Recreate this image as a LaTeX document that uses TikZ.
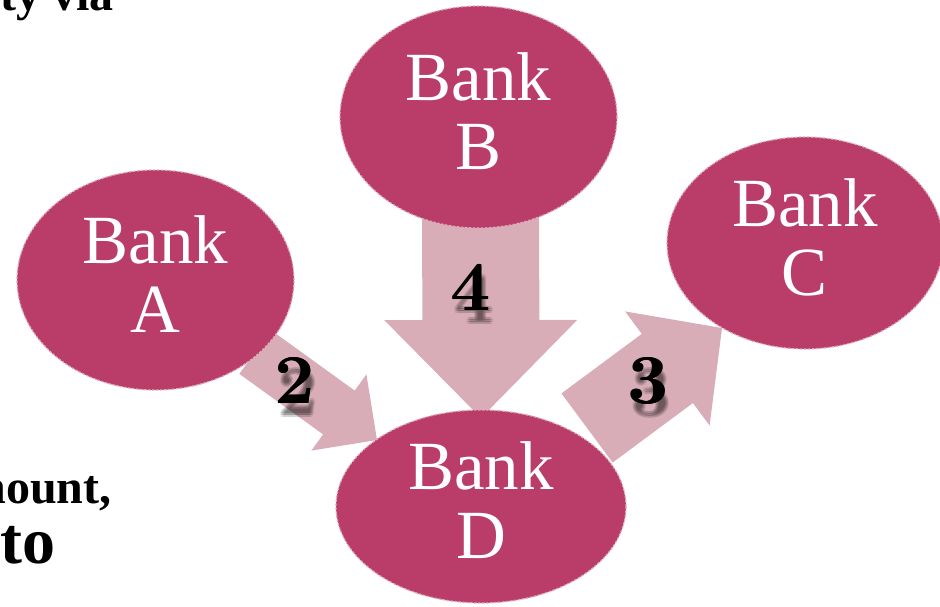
\documentclass[tikz,border=0pt]{standalone}
\usepackage{fontspec}
\newfontfamily\slidefont{Liberation Serif}
\definecolor{bankred}{RGB}{185, 61, 104}
\definecolor{flowpink}{RGB}{216, 173, 184}
\usetikzlibrary{shapes.geometric, calc}

\tikzset{
  bank/.style={ellipse, fill=bankred, draw=white!55!bankred, line width=1.2pt,
    dash pattern=on 2.5pt off 1.5pt, text=white, align=center, inner sep=0pt,
    text depth=12pt, font=\slidefont\fontsize{69}{69}\selectfont},
  flow/.style={fill=flowpink},
  steplabel/.style={font=\fontsize{70}{70}\selectfont\bfseries, anchor=base},
  stepshadow/.style={steplabel, text=black, text opacity=0.09},
  slidetext/.style={font=\slidefont\bfseries\fontsize{48}{48}\selectfont, anchor=base east}
}

% block arrow: tail, tip, half shaft, half head, head length
\newcommand{\flowarrow}[5]{%
  \coordinate (fb) at ($(#2)!#5!(#1)$);
  \fill[flow] ($(#1)!#3!90:(#2)$) -- ($(fb)!#3!-90:(#1)$) -- ($(fb)!#4!-90:(#1)$)
    -- (#2) -- ($(fb)!#4!90:(#1)$) -- ($(fb)!#3!90:(#1)$) -- ($(#1)!#3!-90:(#2)$) -- cycle;
}

\begin{document}
\begin{tikzpicture}[x=1pt, y=-1pt]
  \useasboundingbox (0,0) rectangle (940,606);

  % Cut-off slide text
  \node[slidetext] (via) at (117, 10) {ty via};
  \node[slidetext] (amount) at (115, 503) {nount,};
  \node[slidetext, font=\slidefont\bfseries\fontsize{66}{66}\selectfont] (to) at (59, 563) {to};

  % Bank centres and arrow tips
  \path (155.5, 280) coordinate (Ac) (478.5, 117) coordinate (Bc)
        (805, 243) coordinate (Cc) (481, 506.5) coordinate (Dc);
  \coordinate (h2) at (377, 440);
  \coordinate (h3) at (722, 328);
  \coordinate (h4) at ($(Dc)+(0,-88.5)$);

  % Flows between banks
  \coordinate (t2) at ($(Ac)!0.45!(h2)$);
  \coordinate (t3) at ($(Dc)!0.44!(h3)$);
  \coordinate (t4) at ($(Bc)+(2,30)$);
  \flowarrow{t2}{h2}{27pt}{47pt}{47pt}
  \flowarrow{t3}{h3}{43pt}{71pt}{68pt}
  \flowarrow{t4}{h4}{58.5pt}{96.5pt}{98pt}

  % Bank nodes
  \node[bank, minimum width=277pt, minimum height=220pt] (A) at (Ac) {Bank\\A};
  \node[bank, minimum width=277pt, minimum height=222pt] (B) at (Bc) {Bank\\B};
  \node[bank, minimum width=276pt, minimum height=212pt] (C) at (Cc) {Bank\\C};
  \node[bank, minimum width=290pt, minimum height=193pt] (D) at (Dc) {Bank\\D};

  % Step numbers with soft shadow
  \foreach \x/\y/\d in {295/403/2, 471/310/4, 648/403/3} {
    \foreach \dx/\dy in {2/10, 4/10, 1/12, 3/12, 5/12, 2/14, 4/14}
      \node[stepshadow] (s\d) at (\x+\dx, \y+\dy) {\d};
    \foreach \dx in {-0.7, 0, 0.7}
      \node[steplabel] (n\d) at (\x+\dx, \y) {\d};
  }
\end{tikzpicture}
\end{document}
